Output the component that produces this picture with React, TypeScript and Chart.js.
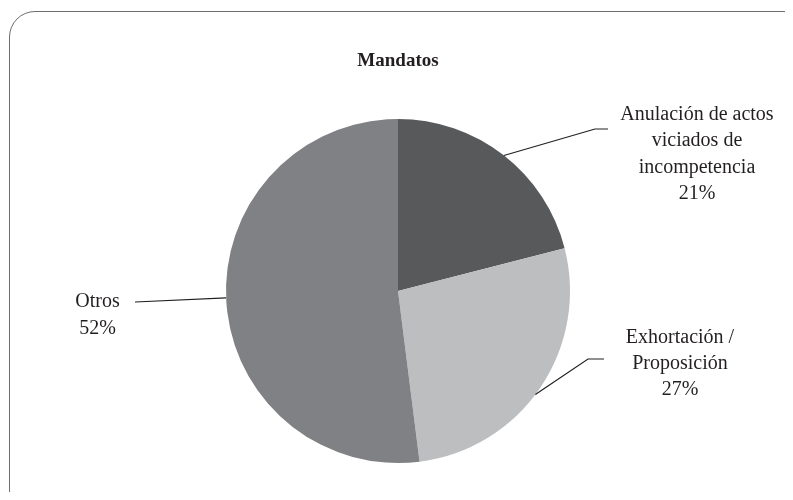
import React, { useEffect, useRef } from "react";
import { Chart, registerables } from "chart.js";

Chart.register(...registerables);

const categories = ["Anulación de actos viciados de incompetencia", "Exhortación / Proposición", "Otros"];
const labelLines = [
  ["Anulación de actos", "viciados de", "incompetencia", "21%"],
  ["Exhortación /", "Proposición", "27%"],
  ["Otros", "52%"],
];
const values = [21, 27, 52];
const colors = ["#58595b", "#bcbec0", "#808184"];
const title = "Mandatos";

// layout for labels, relative to pie centre (px); text = [x centre, first baseline]
const labelLayout = [
  { anchorDeg: -52, elbow: [197, -162], end: [210, -162], text: [299, -171] },
  { anchorDeg: 37, elbow: [190, 68], end: [206, 68], text: [282, 51.7] },
  { anchorDeg: 177.7, elbow: [-263, 11], end: [-263, 11], text: [-300.5, 16.3] },
];

const FONT = '"Liberation Serif", "Times New Roman", serif';

const labelPlugin = {
  id: "pieLabels",
  afterDraw(chart: any) {
    const ctx = chart.ctx;
    const meta = chart.getDatasetMeta(0);
    const arc0 = meta.data[0];
    const cx = arc0.x;
    const cy = arc0.y;
    const r = arc0.outerRadius;
    ctx.save();
    ctx.fillStyle = "#231f20";
    ctx.font = `bold 19px ${FONT}`;
    ctx.textAlign = "center";
    ctx.textBaseline = "alphabetic";
    ctx.fillText(title, cx, cy - 225.5);
    ctx.font = `20px ${FONT}`;
    meta.data.forEach((arc: any, i: number) => {
      const L = labelLayout[i];
      const a = (L.anchorDeg * Math.PI) / 180;
      const sx = cx + r * Math.cos(a);
      const sy = cy + r * Math.sin(a);
      ctx.strokeStyle = "#231f20";
      ctx.lineWidth = 1.2;
      ctx.beginPath();
      ctx.moveTo(sx, sy);
      ctx.lineTo(cx + L.elbow[0], cy + L.elbow[1]);
      ctx.lineTo(cx + L.end[0], cy + L.end[1]);
      ctx.stroke();
      const lines = labelLines[i];
      const lh = 26.3;
      const tx = cx + L.text[0];
      const ty0 = cy + L.text[1];
      lines.forEach((s, k) => ctx.fillText(s, tx, ty0 + k * lh));
    });
    ctx.restore();
  },
};

export default function App() {
  const ref = useRef<HTMLCanvasElement>(null);
  useEffect(() => {
    const chart = new Chart(ref.current!, {
      type: "pie",
      data: {
        labels: categories,
        datasets: [{ data: values, backgroundColor: colors, borderWidth: 0 }],
      },
      options: {
        animation: false,
        responsive: false,
        layout: { padding: { left: 218, right: 215, top: 111, bottom: 29 } },
        plugins: { legend: { display: false }, tooltip: { enabled: false }, title: { display: false } },
      },
      plugins: [labelPlugin],
    });
    return () => chart.destroy();
  }, []);
  return (
    <div style={{ position: "relative", width: 777, height: 484, overflow: "hidden" }}>
      <div
        style={{
          position: "absolute",
          left: 1,
          top: 3,
          width: 800,
          height: 505,
          border: "1.5px solid #6d6e71",
          borderRadius: 26,
          boxSizing: "border-box",
        }}
      />
      <canvas ref={ref} width={777} height={484} style={{ position: "absolute", left: 0, top: 0 }} />
    </div>
  );
}
